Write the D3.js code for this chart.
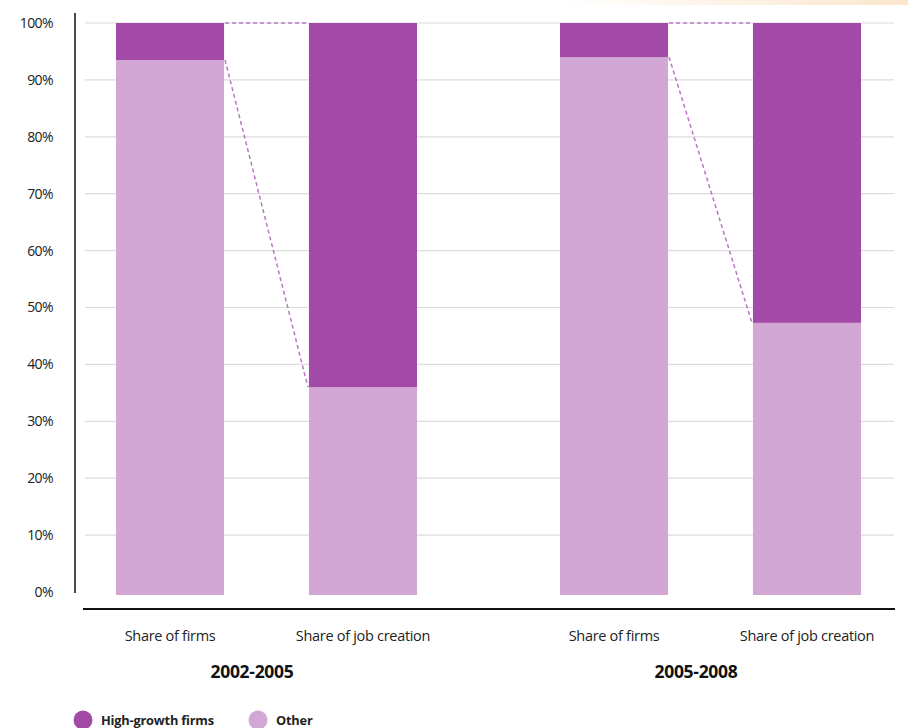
<!DOCTYPE html>
<html>
<head>
<meta charset="utf-8">
<script src="https://cdn.jsdelivr.net/npm/d3@7"></script>
<style>
  body { margin: 0; background: #fff; }
  text { font-family: "Open Sans", "Noto Sans", sans-serif; }
</style>
</head>
<body>
<svg width="908" height="728"></svg>
<script>
var svg = d3.select("svg"),
    width = +svg.attr("width"),
    height = +svg.attr("height");

// data (percent)
var periods = ["2002-2005", "2005-2008"];
var measures = ["Share of firms", "Share of job creation"];
var highGrowth = [[6.5, 64.0], [6.0, 52.7]];
var other = [[93.5, 36.0], [94.0, 47.3]];
var yTicks = [0, 10, 20, 30, 40, 50, 60, 70, 80, 90, 100];
var seriesNames = ["High-growth firms", "Other"];

var colHigh = "#a34aa7", colOther = "#d3a7d4";

// little strip of the cut-off header
var defs = svg.append("defs");
var grad = defs.append("linearGradient").attr("id", "hdr");
grad.append("stop").attr("offset", "0%").attr("stop-color", "#fff");
grad.append("stop").attr("offset", "100%").attr("stop-color", "#fbe6cc");
svg.append("rect").attr("x", 560).attr("y", 0).attr("width", 348).attr("height", 5).attr("fill", "url(#hdr)");

var y = d3.scaleLinear().domain([0, 100]).range([592, 23]);

// group centres, then the two bars inside each group
var x0 = d3.scalePoint().domain(periods).range([266, 710]);
var x1 = d3.scaleBand().domain(measures).range([-150, 151]).paddingInner(0.44);

// gridlines
svg.append("g").selectAll("line")
    .data(yTicks.filter(function(d) { return d > 0; }))
    .enter().append("line")
      .attr("x1", 85).attr("x2", 894)
      .attr("y1", function(d) { return y(d); })
      .attr("y2", function(d) { return y(d); })
      .attr("stroke", "#dcdcdc")
      .attr("stroke-width", 1.2);

// y axis
var yAxis = svg.append("g")
    .attr("transform", "translate(75,0)")
    .call(d3.axisLeft(y).tickValues(yTicks).tickSize(0).tickPadding(22)
      .tickFormat(function(d) { return d + "%"; }));
yAxis.select(".domain").remove();
yAxis.selectAll("text").attr("font-size", 14).attr("fill", "#222")
    .attr("letter-spacing", -0.6);
svg.append("line").attr("x1", 75).attr("x2", 75).attr("y1", 13).attr("y2", 593)
    .attr("stroke", "#111").attr("stroke-width", 1.5);

// x baseline
svg.append("line").attr("x1", 83).attr("x2", 895).attr("y1", 609).attr("y2", 609)
    .attr("stroke", "#111").attr("stroke-width", 2);

// bars
var bars = [];
periods.forEach(function(p, i) {
  measures.forEach(function(m, j) {
    bars.push({ period: p, measure: m, high: highGrowth[i][j], other: other[i][j] });
  });
});
function bx(d) { return x0(d.period) + x1(d.measure); }

var g = svg.append("g");
g.selectAll("rect.other").data(bars).enter().append("rect")
    .attr("class", "other")
    .attr("x", bx)
    .attr("width", x1.bandwidth())
    .attr("y", function(d) { return y(d.other); })
    .attr("height", function(d) { return y(0) - y(d.other) + 3; })
    .attr("fill", colOther);
g.selectAll("rect.high").data(bars).enter().append("rect")
    .attr("class", "high")
    .attr("x", bx)
    .attr("width", x1.bandwidth())
    .attr("y", function(d) { return y(d.other + d.high); })
    .attr("height", function(d) { return y(d.other) - y(d.other + d.high); })
    .attr("fill", colHigh);

// dashed connectors between firms bar and job creation bar
periods.forEach(function(p, i) {
  var a = bars[i * 2], b = bars[i * 2 + 1];
  var xa = bx(a) + x1.bandwidth(), xb = bx(b);
  [[100, 100], [a.other, b.other]].forEach(function(v) {
    svg.append("line")
      .attr("x1", xa + 1).attr("y1", y(v[0]))
      .attr("x2", xb - 1).attr("y2", y(v[1]))
      .attr("stroke", "#b878c2")
      .attr("stroke-width", 1.5)
      .attr("stroke-dasharray", "4,3");
  });
});

// category labels
svg.append("g").selectAll("text").data(bars).enter().append("text")
    .attr("x", function(d) { return bx(d) + x1.bandwidth() / 2; })
    .attr("y", 641)
    .attr("text-anchor", "middle")
    .attr("font-size", 14.5)
    .attr("letter-spacing", -0.3)
    .attr("fill", "#222")
    .text(function(d) { return d.measure; });

svg.append("g").selectAll("text").data(periods).enter().append("text")
    .attr("x", function(d) { return x0(d) - 14; })
    .attr("y", 678)
    .attr("text-anchor", "middle")
    .attr("font-size", 17.5)
    .attr("font-weight", "bold")
    .attr("letter-spacing", -0.3)
    .attr("fill", "#111")
    .text(function(d) { return d; });

// legend
var leg = svg.append("g").selectAll("g").data(seriesNames).enter().append("g")
    .attr("transform", function(d, i) { return "translate(83," + 720 + ")translate(" + (i * 175) + ",0)"; });
leg.append("circle").attr("r", 9.5)
    .attr("fill", function(d, i) { return i === 0 ? colHigh : colOther; });
leg.append("text").attr("x", 18).attr("y", 4.5)
    .attr("font-size", 12.8).attr("font-weight", "bold").attr("fill", "#222")
    .attr("letter-spacing", -0.2)
    .text(function(d) { return d; });
</script>
</body>
</html>
